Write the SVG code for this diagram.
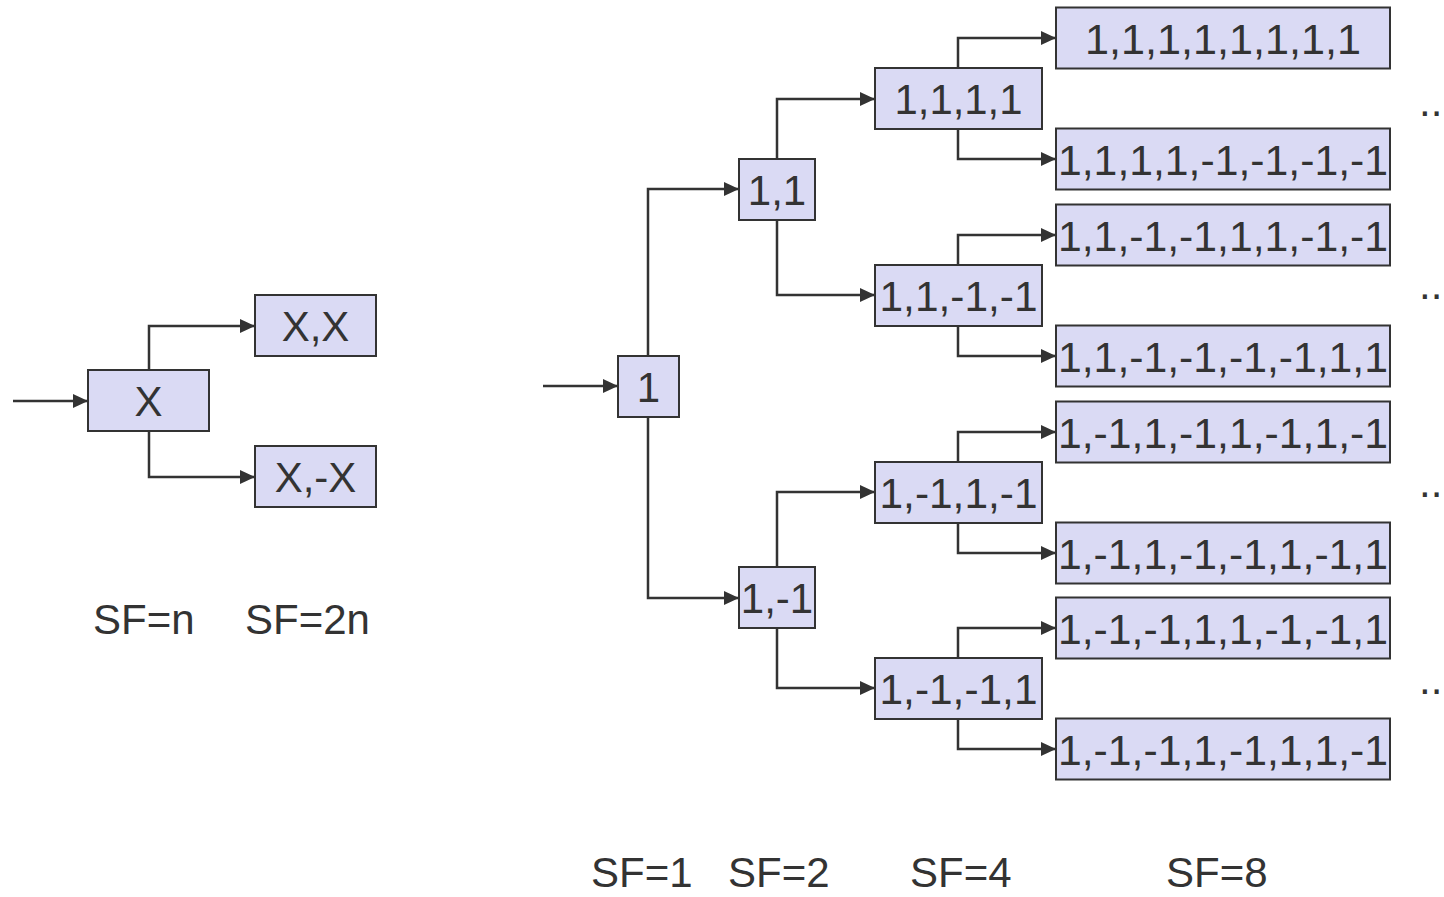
<svg xmlns="http://www.w3.org/2000/svg" width="1444" height="897" viewBox="0 0 1444 897">
<defs>
<marker id="ah" markerUnits="userSpaceOnUse" markerWidth="16" markerHeight="14" refX="15" refY="7" orient="auto">
<path d="M0,0 L15,7 L0,14 z" fill="#333"/>
</marker>
<style>
rect{fill:#DADAF4;stroke:#333;stroke-width:2}
text{font-family:"Liberation Sans",Arial,sans-serif;font-size:42px;fill:#333}
.c{text-anchor:middle}
#connectors path{fill:none;stroke:#333;stroke-width:2.5;marker-end:url(#ah)}
</style>
</defs>
<rect x="0" y="0" width="1444" height="897" style="fill:#fff;stroke:none"/>
<g id="connectors">
<path d="M13,401 H88"/>
<path d="M149,370 V326 H255"/>
<path d="M149,431 V477 H255"/>
<path d="M543,386 H618"/>
<path d="M648,356 V189 H739"/>
<path d="M648,417 V598 H739"/>
<path d="M777,159 V99 H875"/>
<path d="M777,220 V295 H875"/>
<path d="M777,567 V492 H875"/>
<path d="M777,628 V688 H875"/>
<path d="M958,68 V38 H1056"/>
<path d="M958,129 V159 H1056"/>
<path d="M958,265 V235 H1056"/>
<path d="M958,326 V356 H1056"/>
<path d="M958,462 V432 H1056"/>
<path d="M958,523 V553 H1056"/>
<path d="M958,658 V628 H1056"/>
<path d="M958,719 V749 H1056"/>
</g>
<g id="nX"><rect x="88" y="370" width="121" height="61"/><text class="c" x="148.5" y="416">X</text></g>
<g id="nXX"><rect x="255" y="295" width="121" height="61"/><text class="c" x="315.5" y="341">X,X</text></g>
<g id="nXmX"><rect x="255" y="446" width="121" height="61"/><text class="c" x="315.5" y="492">X,-X</text></g>
<g id="n1"><rect x="618" y="356" width="61" height="61"/><text class="c" x="648.5" y="402">1</text></g>
<g id="n11"><rect x="739" y="159" width="76" height="61"/><text class="c" x="777" y="205">1,1</text></g>
<g id="n1m1"><rect x="739" y="567" width="76" height="61"/><text class="c" x="777" y="613">1,-1</text></g>
<g id="n4a"><rect x="875" y="68" width="167" height="61"/><text class="c" x="958.5" y="114" textLength="128" lengthAdjust="spacingAndGlyphs">1,1,1,1</text></g>
<g id="n4b"><rect x="875" y="265" width="167" height="61"/><text class="c" x="958.5" y="311" textLength="158" lengthAdjust="spacingAndGlyphs">1,1,-1,-1</text></g>
<g id="n4c"><rect x="875" y="462" width="167" height="61"/><text class="c" x="958.5" y="508" textLength="158" lengthAdjust="spacingAndGlyphs">1,-1,1,-1</text></g>
<g id="n4d"><rect x="875" y="658" width="167" height="61"/><text class="c" x="958.5" y="704" textLength="158" lengthAdjust="spacingAndGlyphs">1,-1,-1,1</text></g>
<g id="n8a"><rect x="1056" y="7.5" width="334" height="61"/><text class="c" x="1223" y="53.5" textLength="276" lengthAdjust="spacingAndGlyphs">1,1,1,1,1,1,1,1</text></g>
<g id="n8b"><rect x="1056" y="128.5" width="334" height="61"/><text class="c" x="1223" y="174.5" textLength="330" lengthAdjust="spacingAndGlyphs">1,1,1,1,-1,-1,-1,-1</text></g>
<g id="n8c"><rect x="1056" y="204.5" width="334" height="61"/><text class="c" x="1223" y="250.5" textLength="330" lengthAdjust="spacingAndGlyphs">1,1,-1,-1,1,1,-1,-1</text></g>
<g id="n8d"><rect x="1056" y="325.5" width="334" height="61"/><text class="c" x="1223" y="371.5" textLength="330" lengthAdjust="spacingAndGlyphs">1,1,-1,-1,-1,-1,1,1</text></g>
<g id="n8e"><rect x="1056" y="401.5" width="334" height="61"/><text class="c" x="1223" y="447.5" textLength="330" lengthAdjust="spacingAndGlyphs">1,-1,1,-1,1,-1,1,-1</text></g>
<g id="n8f"><rect x="1056" y="522.5" width="334" height="61"/><text class="c" x="1223" y="568.5" textLength="330" lengthAdjust="spacingAndGlyphs">1,-1,1,-1,-1,1,-1,1</text></g>
<g id="n8g"><rect x="1056" y="597.5" width="334" height="61"/><text class="c" x="1223" y="643.5" textLength="330" lengthAdjust="spacingAndGlyphs">1,-1,-1,1,1,-1,-1,1</text></g>
<g id="n8h"><rect x="1056" y="718.5" width="334" height="61"/><text class="c" x="1223" y="764.5" textLength="330" lengthAdjust="spacingAndGlyphs">1,-1,-1,1,-1,1,1,-1</text></g>
<g id="dots">
<text x="1419" y="116">..</text>
<text x="1419" y="299">..</text>
<text x="1419" y="497">..</text>
<text x="1419" y="694">..</text>
</g>
<g id="labels">
<text x="93" y="634">SF=n</text>
<text x="245" y="634">SF=2n</text>
<text x="591" y="887">SF=1</text>
<text x="728" y="887">SF=2</text>
<text x="910" y="887">SF=4</text>
<text x="1166" y="887">SF=8</text>
</g>
</svg>
